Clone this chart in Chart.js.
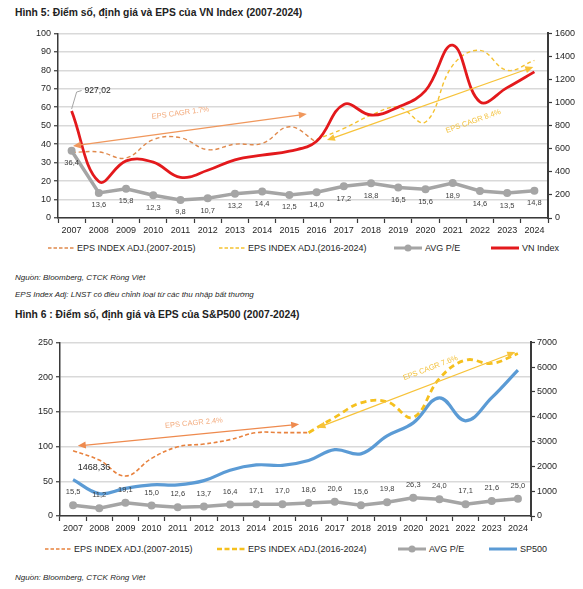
<!DOCTYPE html>
<html>
<head>
<meta charset="utf-8">
<script src="https://cdn.jsdelivr.net/npm/chart.js@4.4.1/dist/chart.umd.min.js"></script>
<style>
  body { margin: 0; background: #fff; font-family: "Liberation Sans", Arial, sans-serif; color: #222; }
  #page { position: relative; width: 583px; height: 589px; overflow: hidden; }
  .title { position: absolute; left: 15px; font-weight: bold; font-size: 10.3px; white-space: nowrap; line-height: 12px; }
  .note { position: absolute; left: 15px; font-style: italic; font-size: 8px; white-space: nowrap; line-height: 10px; color: #262626; }
  .wrap { position: absolute; left: 0; width: 583px; }
  .legend { position: absolute; left: 0; width: 583px; height: 12px; font-size: 9px; color: #262626; }
  .legend .item { position: absolute; top: 0; height: 12px; display: flex; align-items: center; white-space: nowrap; }
  .legend svg { margin-right: 3px; }
</style>
</head>
<body>
<div id="page">
  <div class="title" style="top:7px">Hình 5: Điểm số, định giá và EPS của VN Index (2007-2024)</div>
  <div class="wrap" style="top:25px;height:215px"><canvas id="vnChart"></canvas></div>
  <div class="legend" id="vnLegend" style="top:242px"></div>
  <div class="note" style="top:273px">Nguồn: Bloomberg, CTCK Rồng Việt</div>
  <div class="note" style="top:290px">EPS Index Adj: LNST có điều chỉnh loại từ các thu nhập bất thường</div>

  <div class="title" style="top:309px">Hình 6 : Điểm số, định giá và EPS của S&amp;P500 (2007-2024)</div>
  <div class="wrap" style="top:334px;height:204px"><canvas id="spChart"></canvas></div>
  <div class="legend" id="spLegend" style="top:543px"></div>
  <div class="note" style="top:573px">Nguồn: Bloomberg, CTCK Rồng Việt</div>
</div>
<script>
const years = ["2007", "2008", "2009", "2010", "2011", "2012", "2013", "2014", "2015",
  "2016", "2017", "2018", "2019", "2020", "2021", "2022", "2023", "2024"];

// Hinh 5 - VN Index
const vnIndex = [927.02, 315.62, 494.77, 484.66, 351.55, 413.73, 504.63, 545.63, 579.03,
  664.87, 984.24, 892.54, 960.99, 1103.87, 1498.28, 1007.09, 1129.93, 1266.78];
const vnPE = [36.4, 13.6, 15.8, 12.3, 9.8, 10.7, 13.2, 14.4, 12.5,
  14.0, 17.2, 18.8, 16.5, 15.6, 18.9, 14.6, 13.5, 14.8];
const vnEpsOld = [35.5, 35.8, 32.5, 42.5, 43.5, 37, 40, 40.4, 49.4,
  41, null, null, null, null, null, null, null, null];
const vnEpsNew = [null, null, null, null, null, null, null, null, null,
  42.5, 48.5, 55.7, 60, 52, 82.7, 90.8, 80, 85.4];

// Hinh 6 - S&P500
const spIndex = [1468.36, 903.25, 1115.1, 1257.64, 1257.6, 1426.19, 1848.36, 2058.9, 2043.94,
  2238.83, 2673.61, 2506.85, 3230.78, 3756.07, 4766.18, 3839.5, 4769.83, 5881.63];
const spPE = [15.5, 11.2, 19.1, 15.0, 12.6, 13.7, 16.4, 17.1, 17.0,
  18.6, 20.6, 15.6, 19.8, 26.3, 24.0, 17.1, 21.6, 25.0];
const spEpsOld = [94, 80.6, 57.5, 83, 99.7, 103.6, 110, 120, 120,
  120, null, null, null, null, null, null, null, null];
const spEpsNew = [null, null, null, null, null, null, null, null, null,
  120, 142, 163, 164.5, 142, 198, 224.5, 219.7, 234];

const FONT = '"Liberation Sans", Arial, sans-serif';
const AXIS = "#3a3a3a";
const TXT = "#262626";
const GRAY = "#a5a5a5";

function comma(v, d) { return v.toFixed(d).replace(".", ","); }

function drawArrowHead(ctx, x, y, ang, color) {
  ctx.save();
  ctx.translate(x, y);
  ctx.rotate(ang);
  ctx.fillStyle = color;
  ctx.beginPath();
  ctx.moveTo(0, 0);
  ctx.lineTo(-8, -3.5);
  ctx.lineTo(-8, 3.5);
  ctx.closePath();
  ctx.fill();
  ctx.restore();
}

// labels for P/E, CAGR arrows and the first index value
const overlay = {
  id: "overlay",
  afterDatasetsDraw(chart, args, opts) {
    const ctx = chart.ctx;
    const xs = chart.scales.x, ys = chart.scales.y;
    ctx.save();

    opts.arrows.forEach(a => {
      const x1 = xs.getPixelForValue(a.from[0]), y1 = ys.getPixelForValue(a.from[1]);
      const x2 = xs.getPixelForValue(a.to[0]), y2 = ys.getPixelForValue(a.to[1]);
      const ang = Math.atan2(y2 - y1, x2 - x1);
      ctx.strokeStyle = a.color;
      ctx.lineWidth = 1.3;
      ctx.beginPath();
      ctx.moveTo(x1 + Math.cos(ang) * 6, y1 + Math.sin(ang) * 6);
      ctx.lineTo(x2 - Math.cos(ang) * 6, y2 - Math.sin(ang) * 6);
      ctx.stroke();
      drawArrowHead(ctx, x2, y2, ang, a.color);
      drawArrowHead(ctx, x1, y1, ang + Math.PI, a.color);
      ctx.save();
      ctx.translate(xs.getPixelForValue(a.label[0]), ys.getPixelForValue(a.label[1]));
      ctx.rotate(ang);
      ctx.font = "7.5px " + FONT;
      ctx.fillStyle = a.textColor;
      ctx.textAlign = "center";
      ctx.textBaseline = "middle";
      ctx.fillText(a.text, 0, 0);
      ctx.restore();
    });

    const pe = chart.data.datasets[opts.pe];
    ctx.font = "7.5px " + FONT;
    ctx.fillStyle = "#404040";
    ctx.textAlign = "center";
    ctx.textBaseline = "middle";
    chart.getDatasetMeta(opts.pe).data.forEach((pt, i) => {
      ctx.fillText(comma(pe.data[i], 1), pt.x, pt.y + opts.peOffset);
    });

    const f = opts.first;
    const p0 = chart.getDatasetMeta(f.dataset).data[0];
    const txt = comma(chart.data.datasets[f.dataset].data[0], 2);
    if (f.callout) {
      ctx.strokeStyle = GRAY;
      ctx.lineWidth = 1;
      ctx.beginPath();
      ctx.moveTo(p0.x, p0.y - 2);
      ctx.lineTo(p0.x + 5, p0.y - 19);
      ctx.lineTo(p0.x + 10, p0.y - 20.5);
      ctx.stroke();
      ctx.font = "8.5px " + FONT;
      ctx.fillStyle = TXT;
      ctx.textAlign = "left";
      ctx.fillText(txt, p0.x + 13, p0.y - 20);
    } else {
      ctx.font = "9px " + FONT;
      ctx.fillStyle = TXT;
      ctx.textAlign = "center";
      ctx.fillText(txt, p0.x + f.dx, p0.y + f.dy);
    }
    ctx.restore();
  }
};

function scalesFor(leftMax, leftStep, rightMax, rightStep, rightWidth, rightPad) {
  const tickFont = { family: FONT, size: 9 };
  return {
    x: {
      offset: true,
      grid: { offset: true, drawOnChartArea: false, tickLength: 5, tickColor: AXIS, tickWidth: 1.2 },
      border: { color: AXIS, width: 1.5 },
      ticks: { font: tickFont, color: TXT, padding: 2, maxRotation: 0, autoSkip: false },
      afterFit: s => { s.height = 22; }
    },
    y: {
      position: "left", min: 0, max: leftMax,
      ticks: { stepSize: leftStep, font: tickFont, color: TXT, padding: 3 },
      grid: { color: "#d9d9d9", lineWidth: 1.5, tickColor: AXIS, tickLength: 4, tickWidth: 1.2 },
      border: { color: AXIS, width: 1.5 },
      afterFit: s => { s.width = leftMax === 100 ? 58 : 60; }
    },
    y1: {
      position: "right", min: 0, max: rightMax,
      ticks: { stepSize: rightStep, font: tickFont, color: TXT, padding: rightPad,
        callback: v => String(v) },
      grid: { drawOnChartArea: false, tickColor: AXIS, tickLength: 4, tickWidth: 1.2 },
      border: { color: AXIS, width: 2 },
      afterFit: s => { s.width = rightWidth; }
    }
  };
}

const baseOpts = {
  responsive: true,
  maintainAspectRatio: false,
  animation: false,
  layout: { padding: { top: 8, left: 0, right: 0, bottom: 0 } },
  plugins: { legend: { display: false }, tooltip: { enabled: false } }
};

new Chart(document.getElementById("vnChart"), {
  type: "line",
  data: {
    labels: years,
    datasets: [
      { label: "EPS INDEX ADJ.(2007-2015)", data: vnEpsOld, yAxisID: "y", borderColor: "#e0894c",
        borderWidth: 1.4, borderDash: [4, 3], pointRadius: 0, tension: 0.4, order: 4 },
      { label: "EPS INDEX ADJ.(2016-2024)", data: vnEpsNew, yAxisID: "y", borderColor: "#f5c230",
        borderWidth: 1.4, borderDash: [4, 3], pointRadius: 0, tension: 0.4, order: 3 },
      { label: "AVG P/E", data: vnPE, yAxisID: "y", borderColor: GRAY, backgroundColor: GRAY,
        borderWidth: 3.5, pointRadius: 4, pointBorderWidth: 0, tension: 0, order: 2 },
      { label: "VN Index", data: vnIndex, yAxisID: "y1", borderColor: "#e3191c",
        borderWidth: 2.8, pointRadius: 0, tension: 0.4, order: 1 }
    ]
  },
  options: Object.assign({}, baseOpts, {
    scales: scalesFor(100, 10, 1600, 200, 35, 3),
    plugins: Object.assign({}, baseOpts.plugins, {
      overlay: {
        pe: 2, peOffset: 12.5,
        first: { dataset: 3, callout: true },
        arrows: [
          { from: [0.05, 39], to: [8.64, 56.3], color: "#f0975c", textColor: "#f3ad80",
            label: [4.0, 56.8], text: "EPS CAGR 1.7%" },
          { from: [9.38, 42.2], to: [16.96, 81.8], color: "#f7c33a", textColor: "#f3c23e",
            label: [14.76, 52.4], text: "EPS CAGR 8.4%" }
        ]
      }
    })
  }),
  plugins: [overlay]
});

new Chart(document.getElementById("spChart"), {
  type: "line",
  data: {
    labels: years,
    datasets: [
      { label: "EPS INDEX ADJ.(2007-2015)", data: spEpsOld, yAxisID: "y", borderColor: "#e8823e",
        borderWidth: 1.6, borderDash: [4, 2.5], pointRadius: 0, tension: 0.4, order: 4 },
      { label: "EPS INDEX ADJ.(2016-2024)", data: spEpsNew, yAxisID: "y", borderColor: "#f5c01e",
        borderWidth: 2.8, borderDash: [6, 4], pointRadius: 0, tension: 0.4, order: 1 },
      { label: "AVG P/E", data: spPE, yAxisID: "y", borderColor: GRAY, backgroundColor: GRAY,
        borderWidth: 3.5, pointRadius: 4, pointBorderWidth: 0, tension: 0, order: 3 },
      { label: "SP500", data: spIndex, yAxisID: "y1", borderColor: "#5b9bd5",
        borderWidth: 3.2, pointRadius: 0, tension: 0.4, order: 2 }
    ]
  },
  options: Object.assign({}, baseOpts, {
    scales: scalesFor(250, 50, 7000, 1000, 52, 2),
    plugins: Object.assign({}, baseOpts.plugins, {
      overlay: {
        pe: 2, peOffset: -13,
        first: { dataset: 3, callout: false, dx: 21, dy: -12.5 },
        arrows: [
          { from: [0.18, 101], to: [8.64, 132], color: "#ee8a4e", textColor: "#f3ad80",
            label: [4.62, 133.8], text: "EPS CAGR 2.4%" },
          { from: [9.34, 127], to: [16.9, 236], color: "#f7c33a", textColor: "#f3c23e",
            label: [13.66, 213], text: "EPS CAGR 7.6%" }
        ]
      }
    })
  }),
  plugins: [overlay]
});

// html legends
function swatch(kind, color) {
  if (kind === "dash") return `<svg width="26" height="8"><line x1="0" y1="4" x2="26" y2="4" stroke="${color}" stroke-width="1.5" stroke-dasharray="3.5 2"/></svg>`;
  if (kind === "bigdash") return `<svg width="28" height="8"><line x1="0" y1="4" x2="28" y2="4" stroke="${color}" stroke-width="2.5" stroke-dasharray="5 2.5"/></svg>`;
  if (kind === "dot") return `<svg width="28" height="8"><line x1="0" y1="4" x2="28" y2="4" stroke="${color}" stroke-width="3"/><circle cx="14" cy="4" r="3.5" fill="${color}"/></svg>`;
  return `<svg width="28" height="8"><line x1="0" y1="4" x2="28" y2="4" stroke="${color}" stroke-width="3"/></svg>`;
}
function legend(id, items) {
  document.getElementById(id).innerHTML = items.map(it =>
    `<span class="item" style="left:${it.left}px">${swatch(it.kind, it.color)}${it.text}</span>`).join("");
}
legend("vnLegend", [
  { left: 48, kind: "dash", color: "#e0894c", text: "EPS INDEX ADJ.(2007-2015)" },
  { left: 219, kind: "dash", color: "#f5c230", text: "EPS INDEX ADJ.(2016-2024)" },
  { left: 394, kind: "dot", color: GRAY, text: "AVG P/E" },
  { left: 491, kind: "line", color: "#e3191c", text: "VN Index" }
]);
legend("spLegend", [
  { left: 45, kind: "dash", color: "#e8823e", text: "EPS INDEX ADJ.(2007-2015)" },
  { left: 217, kind: "bigdash", color: "#f5c01e", text: "EPS INDEX ADJ.(2016-2024)" },
  { left: 398, kind: "dot", color: GRAY, text: "AVG P/E" },
  { left: 489, kind: "line", color: "#5b9bd5", text: "SP500" }
]);
</script>
</body>
</html>
